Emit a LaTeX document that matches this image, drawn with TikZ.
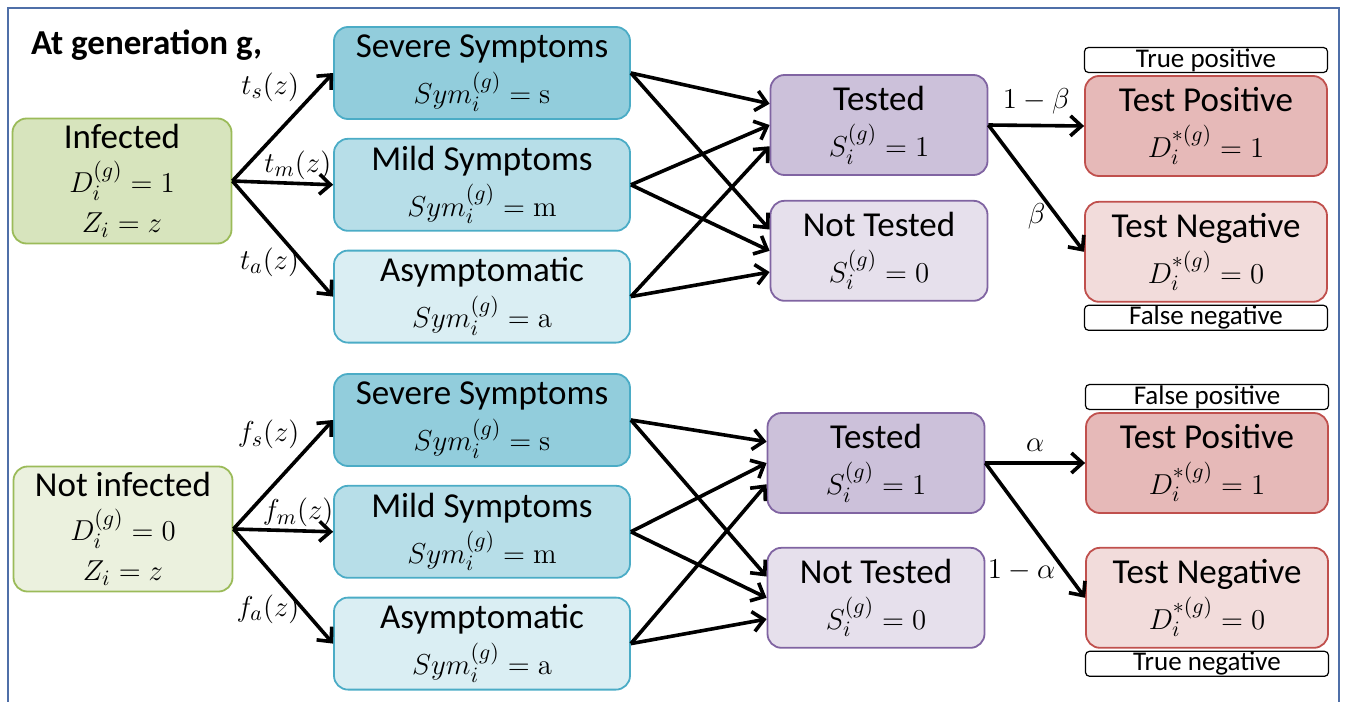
\documentclass[tikz,border=0pt]{standalone}
\usepackage[no-math]{fontspec}
\setmainfont{Carlito}
\usetikzlibrary{arrows.meta, positioning}

\definecolor{infgreen}{HTML}{D7E4BD}
\definecolor{nifgreen}{HTML}{EBF1DE}
\definecolor{edgegreen}{HTML}{9BBB59}
\definecolor{sevblue}{HTML}{92CDDC}
\definecolor{midblue}{HTML}{B7DEE8}
\definecolor{asyblue}{HTML}{DAEEF3}
\definecolor{edgeblue}{HTML}{4BACC6}
\definecolor{tstpurple}{HTML}{CCC1DA}
\definecolor{notpurple}{HTML}{E6E0EC}
\definecolor{edgepurple}{HTML}{8064A2}
\definecolor{posred}{HTML}{E6B9B8}
\definecolor{negred}{HTML}{F2DCDB}
\definecolor{edgered}{HTML}{C0504D}
\definecolor{frameblue}{HTML}{4F6FA8}

\newcommand{\mline}[1]{{\fontsize{15.5}{20}\selectfont$#1$}}

\tikzstyle{box} = [rectangle, rounded corners=7pt, line width=0.9pt, align=center, font=\fontsize{17.5}{20}\selectfont, inner sep=2pt]
\tikzstyle{who} = [box, minimum width=109.5pt, minimum height=62.5pt, draw=edgegreen]
\tikzstyle{sym} = [box, minimum width=148pt, minimum height=46pt, draw=edgeblue]
\tikzstyle{tst} = [box, minimum width=108.5pt, minimum height=50pt, draw=edgepurple]
\tikzstyle{res} = [box, minimum width=121pt, minimum height=50pt, draw=edgered]
\tikzstyle{tag} = [rectangle, rounded corners=2pt, draw=black, line width=0.6pt, minimum width=121.5pt, minimum height=12.5pt, inner sep=0pt, font=\fontsize{13.5}{13}\selectfont]
\tikzstyle{arrow} = [line width=1.8pt, ->, >={Straight Barb[length=5.5pt, width=10pt]}]
\tikzstyle{lbl} = [font=\fontsize{15.5}{15}\selectfont, inner sep=1pt]

\begin{document}
\begin{tikzpicture}[x=0.5pt, y=-0.5pt]
\useasboundingbox (0,0) rectangle (1346,702);
\draw[frameblue, line width=0.8pt] (8,702) -- (8,8) -- (1339,8) -- (1339,702);

\node (title) [anchor=west, font=\bfseries\fontsize{17.5}{20}\selectfont] at (24,45) {At generation g,};

% infected
\node (inf) [who, fill=infgreen] at (122,181) {Infected\\[2pt]\mline{D_i^{(g)}=1}\\\mline{Z_i=z}};
\node (sevA) [sym, fill=sevblue] at (482,73) {Severe Symptoms\\[3pt]\mline{Sym_i^{(g)}=\mathrm{s}}};
\node (midA) [sym, fill=midblue, below=9pt of sevA] {Mild Symptoms\\[3pt]\mline{Sym_i^{(g)}=\mathrm{m}}};
\node (asyA) [sym, fill=asyblue, below=9pt of midA] {Asymptomatic\\[3pt]\mline{Sym_i^{(g)}=\mathrm{a}}};
\node (tstA) [tst, fill=tstpurple] at (879,125) {Tested\\[3pt]\mline{S_i^{(g)}=1}};
\node (notA) [tst, fill=notpurple, below=12pt of tstA] {Not Tested\\[3pt]\mline{S_i^{(g)}=0}};
\node (posA) [res, fill=posred] at (1206,126) {Test Positive\\[3pt]\mline{D_i^{*(g)}=1}};
\node (negA) [res, fill=negred, below=12pt of posA] {Test Negative\\[3pt]\mline{D_i^{*(g)}=0}};
\node (tpA) [tag, above=1pt of posA] {True positive};
\node (fnA) [tag, below=1pt of negA] {False negative};

\draw[arrow] (inf.east) -- node[lbl, pos=.7, above left] {$t_s(z)$} (sevA.west);
\draw[arrow] (inf.east) -- node[lbl, pos=.65, above] {$t_m(z)$} (midA.west);
\draw[arrow] (inf.east) -- node[lbl, pos=.7, left] {$t_a(z)$} (asyA.west);
\draw[arrow] (sevA.east) -- (tstA.169);
\draw[arrow] (sevA.east) -- (notA.169);
\draw[arrow] (midA.east) -- (tstA.west);
\draw[arrow] (midA.east) -- (notA.west);
\draw[arrow] (asyA.east) -- (tstA.191);
\draw[arrow] (asyA.east) -- (notA.191);
\draw[arrow] (tstA.east) -- node[lbl, above=4pt] {$1-\beta$} (posA.west);
\draw[arrow] (tstA.east) -- node[lbl, pos=.72, left=4pt] {$\beta$} (negA.west);

% not infected
\node (nif) [who, fill=nifgreen] at (123,529) {Not infected\\[2pt]\mline{D_i^{(g)}=0}\\\mline{Z_i=z}};
\node (sevB) [sym, fill=sevblue] at (482,420) {Severe Symptoms\\[3pt]\mline{Sym_i^{(g)}=\mathrm{s}}};
\node (midB) [sym, fill=midblue, below=9pt of sevB] {Mild Symptoms\\[3pt]\mline{Sym_i^{(g)}=\mathrm{m}}};
\node (asyB) [sym, fill=asyblue, below=9pt of midB] {Asymptomatic\\[3pt]\mline{Sym_i^{(g)}=\mathrm{a}}};
\node (tstB) [tst, fill=tstpurple] at (876,463) {Tested\\[3pt]\mline{S_i^{(g)}=1}};
\node (notB) [tst, fill=notpurple, below=16.5pt of tstB] {Not Tested\\[3pt]\mline{S_i^{(g)}=0}};
\node (posB) [res, fill=posred] at (1207,463) {Test Positive\\[3pt]\mline{D_i^{*(g)}=1}};
\node (negB) [res, fill=negred, below=16.5pt of posB] {Test Negative\\[3pt]\mline{D_i^{*(g)}=0}};
\node (fpB) [tag, above=1pt of posB] {False positive};
\node (tnB) [tag, below=1pt of negB] {True negative};

\draw[arrow] (nif.east) -- node[lbl, pos=.7, above left] {$f_s(z)$} (sevB.west);
\draw[arrow] (nif.east) -- node[lbl, pos=.65, above] {$f_m(z)$} (midB.west);
\draw[arrow] (nif.east) -- node[lbl, pos=.7, left] {$f_a(z)$} (asyB.west);
\draw[arrow] (sevB.east) -- (tstB.169);
\draw[arrow] (sevB.east) -- (notB.169);
\draw[arrow] (midB.east) -- (tstB.west);
\draw[arrow] (midB.east) -- (notB.west);
\draw[arrow] (asyB.east) -- (tstB.191);
\draw[arrow] (asyB.east) -- (notB.191);
\draw[arrow] (tstB.east) -- node[lbl, above=4pt] {$\alpha$} (posB.west);
\draw[arrow] (tstB.east) -- node[lbl, pos=.8, left=3pt] {$1-\alpha$} (negB.west);
\end{tikzpicture}
\end{document}
